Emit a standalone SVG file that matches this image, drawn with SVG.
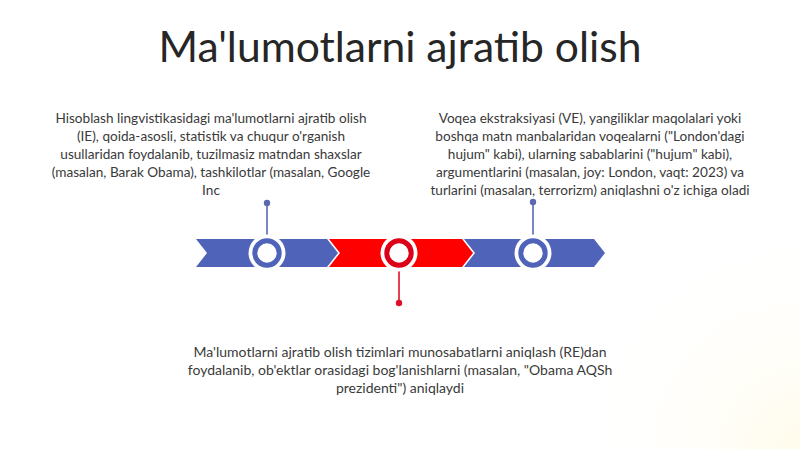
<svg xmlns="http://www.w3.org/2000/svg" width="800" height="449" viewBox="0 0 800 449">
<style>
.t{font-family:Lato,"Liberation Sans",sans-serif;fill:#3a3a3a;font-size:13.6px;text-anchor:middle}
.b{font-size:14px}
.title{font-family:Lato,"Liberation Sans",sans-serif;fill:#262626;font-size:42.6px;text-anchor:middle}
.blue{fill:#4f63b8}
.red{fill:#ff0000}
</style>
<defs>
<radialGradient id="glow" cx="800" cy="449" r="240" gradientUnits="userSpaceOnUse">
<stop offset="0" stop-color="#fff6c8" stop-opacity="0.35"/>
<stop offset="1" stop-color="#ffffff" stop-opacity="0"/>
</radialGradient>
</defs>
<rect width="800" height="449" fill="#ffffff"/>
<rect width="800" height="449" fill="url(#glow)"/>
<text class="title" x="400" y="62">Ma'lumotlarni ajratib olish</text>
<g id="band">
<polygon class="blue" points="196,239 327,239 338,253 327,267 196,267 207,253"/>
<polygon class="red" points="329,239 462,239 473,253 462,267 329,267 340,253"/>
<polygon class="blue" points="464,239 594,239 605,253 594,267 464,267 475,253"/>
</g>
<g id="connectors">
<line x1="267" y1="203" x2="267" y2="238" stroke="#5b69b0" stroke-width="1.6"/>
<circle cx="267" cy="203" r="3.2" fill="#5b69b0"/>
<line x1="533" y1="202" x2="533" y2="238" stroke="#5b69b0" stroke-width="1.6"/>
<circle cx="533" cy="202" r="3.2" fill="#5b69b0"/>
<line x1="399" y1="268" x2="399" y2="303" stroke="#e0102a" stroke-width="1.6"/>
<circle cx="399" cy="303" r="3.2" fill="#e0102a"/>
</g>
<g id="node1">
<circle cx="267" cy="253" r="18.5" fill="#ffffff"/>
<circle cx="267" cy="253" r="12.2" fill="#ffffff" stroke="#4f63b8" stroke-width="5"/>
<text class="t" x="211" y="123">Hisoblash lingvistikasidagi ma'lumotlarni ajratib olish</text>
<text class="t" x="211" y="141">(IE), qoida-asosli, statistik va chuqur o'rganish</text>
<text class="t" x="211" y="159">usullaridan foydalanib, tuzilmasiz matndan shaxslar</text>
<text class="t" x="211" y="177">(masalan, Barak Obama), tashkilotlar (masalan, Google</text>
<text class="t" x="211" y="195">Inc</text>
</g>
<g id="node2">
<circle cx="399" cy="253" r="18.5" fill="#ffffff"/>
<circle cx="399" cy="253" r="12.2" fill="#ffffff" stroke="#dc0018" stroke-width="5"/>
<text class="t b" x="400" y="357">Ma'lumotlarni ajratib olish tizimlari munosabatlarni aniqlash (RE)dan</text>
<text class="t b" x="400" y="375">foydalanib, ob'ektlar orasidagi bog'lanishlarni (masalan, "Obama AQSh</text>
<text class="t b" x="400" y="393">prezidenti") aniqlaydi</text>
</g>
<g id="node3">
<circle cx="533" cy="253" r="18.5" fill="#ffffff"/>
<circle cx="533" cy="253" r="12.2" fill="#ffffff" stroke="#4f63b8" stroke-width="5"/>
<text class="t" x="590" y="123">Voqea ekstraksiyasi (VE), yangiliklar maqolalari yoki</text>
<text class="t" x="590" y="141">boshqa matn manbalaridan voqealarni ("London'dagi</text>
<text class="t" x="590" y="159">hujum" kabi), ularning sabablarini ("hujum" kabi),</text>
<text class="t" x="590" y="177">argumentlarini (masalan, joy: London, vaqt: 2023) va</text>
<text class="t" x="590" y="195">turlarini (masalan, terrorizm) aniqlashni o'z ichiga oladi</text>
</g>
</svg>
